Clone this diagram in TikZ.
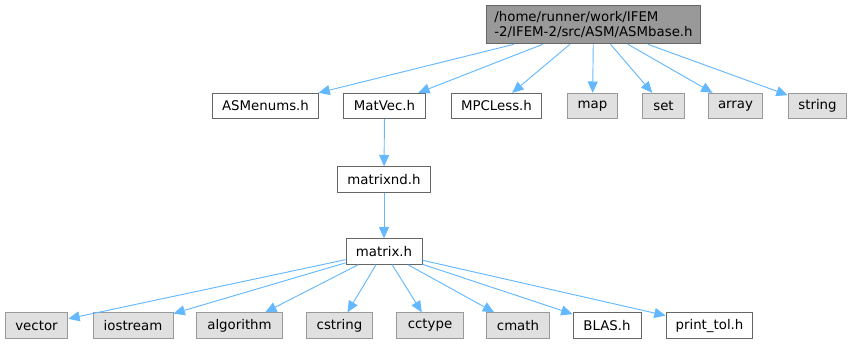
\documentclass[tikz,border=0pt]{standalone}
\usepackage{fontspec}
\setmainfont{DejaVu Sans}
\usetikzlibrary{arrows.meta}
\definecolor{edgeblue}{HTML}{63B8FF}
\definecolor{rootfill}{HTML}{999999}
\definecolor{sysfill}{HTML}{E0E0E0}
\definecolor{darkrim}{HTML}{666666}
\definecolor{lightrim}{HTML}{999999}

\begin{document}
\begin{tikzpicture}[x=0.75pt,y=-0.75pt,>={Stealth[length=8.5pt,width=7.5pt,inset=0pt]},
every node/.style={font=\fontsize{10}{11.5}\selectfont,inner xsep=5pt,inner ysep=0pt,minimum height=19pt,line width=0.75pt},
rootbox/.style={draw=darkrim,fill=rootfill,align=left,minimum width=160pt,minimum height=29pt},
filebox/.style={draw=darkrim,fill=white},
sysbox/.style={draw=lightrim,fill=sysfill},
edge/.style={->,draw=edgeblue,line width=0.7pt}]
\useasboundingbox (0,0) rectangle (853,344);
\node[rootbox] (root) at (593.5,24.5) {/home/runner/work/IFEM\\-2/IFEM-2/src/ASM/ASMbase.h};
% first level
\node[filebox,minimum width=80pt] (asmenums) at (265.5,106) {ASMenums.h};
\node[filebox,minimum width=62pt] (matvec) at (384.5,106) {MatVec.h};
\node[filebox,minimum width=68pt] (mpcless) at (496.5,106) {MPCLess.h};
\node[sysbox,minimum width=38pt] (map) at (592.5,106) {map};
\node[sysbox,minimum width=32pt] (set) at (663.5,106) {set};
\node[sysbox,minimum width=41pt] (array) at (735.5,106) {array};
\node[sysbox,minimum width=44pt] (string) at (817.5,106) {string};
% chain
\node[filebox,minimum width=70pt] (matrixnd) at (384,179.5) {matrixnd.h};
\node[filebox,minimum width=57pt] (matrix) at (384,251.5) {matrix.h};
% bottom level
\node[sysbox,minimum width=47pt] (vector) at (36.5,325.5) {vector};
\node[sysbox,minimum width=60pt] (iostream) at (133,325.5) {iostream};
\node[sysbox,minimum width=64pt] (algorithm) at (239.5,325.5) {algorithm};
\node[sysbox,minimum width=50pt] (cstring) at (339.5,325.5) {cstring};
\node[sysbox,minimum width=50pt] (cctype) at (430,325.5) {cctype};
\node[sysbox,minimum width=47pt] (cmath) at (518,325.5) {cmath};
\node[filebox,minimum width=51pt] (blas) at (607,325.5) {BLAS.h};
\node[filebox,minimum width=65pt] (printtol) at (709.5,325.5) {print\_tol.h};
\foreach \t in {asmenums,matvec,mpcless,map,set,array,string}{\draw[edge] (root) -- (\t);}
\draw[edge] (matvec) -- (matrixnd);
\draw[edge] (matrixnd) -- (matrix);
\foreach \t in {vector,iostream,algorithm,cstring,cctype,cmath,blas,printtol}{\draw[edge] (matrix) -- (\t);}
\end{tikzpicture}
\end{document}
